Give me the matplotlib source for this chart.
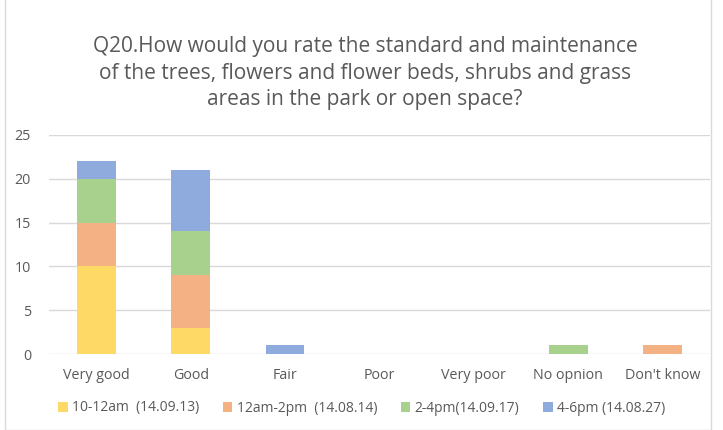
import matplotlib.pyplot as plt
from matplotlib.patches import Rectangle
import numpy as np

categories = ["Very good", "Good", "Fair", "Poor", "Very poor", "No opnion", "Don't know"]
series_names = ["10-12am  (14.09.13)", "12am-2pm  (14.08.14)", "2-4pm(14.09.17)", "4-6pm (14.08.27)"]
s1 = [10, 3, 0, 0, 0, 0, 0]
s2 = [5, 6, 0, 0, 0, 0, 1]
s3 = [5, 5, 0, 0, 0, 1, 0]
s4 = [2, 7, 1, 0, 0, 0, 0]
colors = ["#FFD966", "#F4B183", "#A9D18E", "#8FAADC"]

plt.rcParams['font.family'] = ['Open Sans', 'DejaVu Sans']
txt = "#595959"

fig = plt.figure(figsize=(7.23, 4.3), dpi=100)
ax = fig.add_axes([49 / 723, 1 - 354 / 430, 661 / 723, 219 / 430])

x = np.arange(len(categories))
bottom = np.zeros(len(categories))
for vals, name, c in zip([s1, s2, s3, s4], series_names, colors):
    ax.bar(x, vals, width=0.41, bottom=bottom, color=c, label=name, zorder=3)
    bottom += np.array(vals)

ax.set_xlim(-0.5, len(categories) - 0.5)
ax.set_ylim(0, 25)
ax.set_yticks(range(0, 26, 5))
ax.set_xticks(x)
ax.set_xticklabels(categories)
ax.grid(axis='y', color="#D9D9D9", linewidth=1, zorder=0)
for s in ax.spines.values():
    s.set_visible(False)
ax.tick_params(length=0, colors=txt, labelsize=10.3)
ax.tick_params(axis='x', pad=10)
ax.tick_params(axis='y', pad=13)

fig.text(0.505, 1 - 73 / 430,
         "Q20.How would you rate the standard and maintenance\n"
         "of the trees, flowers and flower beds, shrubs and grass\n"
         "areas in the park or open space?",
         ha='center', va='center', fontsize=15, color=txt, linespacing=1.35)

leg = fig.legend(loc='center', bbox_to_anchor=(0.5, 1 - 408 / 430), ncol=4, frameon=False,
                 fontsize=10, handlelength=0.7, handleheight=0.7, handletextpad=0.3,
                 columnspacing=1.7, labelcolor=txt)

fig.patches.append(Rectangle((5 / 723, 0), 706 / 723, 1.2, transform=fig.transFigure,
                             fill=False, edgecolor="#D9D9D9", linewidth=1))

fig.savefig("out.png", dpi=100)
